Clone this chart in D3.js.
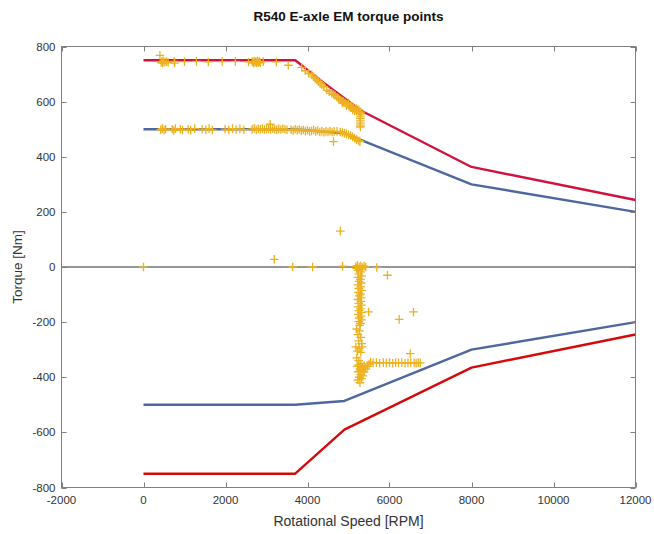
<!DOCTYPE html>
<html>
<head>
<meta charset="utf-8">
<script src="https://cdn.jsdelivr.net/npm/d3@7/dist/d3.min.js"></script>
<style>
  html, body { margin: 0; padding: 0; background: #fff; }
  svg { display: block; font-family: "Liberation Sans", Arial, Helvetica, sans-serif; }
</style>
</head>
<body>
<svg id="chart" width="654" height="534"></svg>
<script>
// Envelope curves [rpm, torque Nm]
const peakMotoring = [[0, 750], [3700, 750], [4400, 668], [5300, 568], [8000, 363], [12000, 243]];
const contMotoring = [[0, 500], [3700, 500], [4900, 485], [8000, 300], [12000, 200]];
const contRegen = [[0, -500], [3700, -500], [4900, -486], [8000, -300], [12000, -200]];
const peakRegen = [[0, -750], [3700, -750], [4900, -590], [8000, -365], [12000, -245]];

// Operating points [rpm, torque Nm]
const pointsFullLoad = [
  [400, 768], [430, 742], [450, 745], [470, 740], [480, 748], [520, 744], [560, 745], [600, 742], [750, 746], [760, 740],
  [1000, 745], [1290, 746], [1580, 744], [1920, 745], [2240, 746], [2560, 744], [2650, 745], [2680, 740],
  [2700, 747], [2720, 742], [2740, 745], [2760, 740], [2780, 747], [2800, 742], [2830, 745], [2850, 741],
  [2920, 745], [3240, 744], [3530, 732], [3860, 724]
];
const pointsFieldWeakening = [
  [3950, 712], [4030, 703], [4107, 697], [4150, 690], [4188, 685], [4230, 679], [4269, 673], [4310, 667],
  [4350, 661], [4400, 654], [4472, 642], [4530, 636], [4594, 630], [4640, 626], [4675, 622], [4720, 616],
  [4756, 612], [4800, 607], [4840, 603], [4878, 600], [4920, 596], [4960, 592], [5000, 588], [5040, 584],
  [5080, 580], [5122, 576], [5160, 572], [5200, 568], [5244, 564], [5285, 558], [4950, 585], [5050, 578],
  [5100, 570], [5150, 566], [5200, 575], [5250, 570], [5300, 562], [5000, 595], [4850, 595],
  [5290, 552], [5290, 545], [5290, 538], [5290, 530], [5290, 522], [5290, 515], [5290, 508]
];
const pointsPartLoad = [
  [420, 498], [460, 502], [500, 497], [540, 500], [700, 500], [740, 495], [780, 502], [900, 500], [950, 497],
  [1090, 500], [1150, 496], [1250, 502], [1430, 500], [1520, 498], [1600, 502], [1680, 497], [1990, 500],
  [2080, 497], [2170, 502], [2260, 499], [2350, 501], [2450, 498], [2650, 500], [2700, 503], [2750, 498],
  [2800, 501], [2850, 500], [2900, 502], [2950, 499], [3000, 500], [3050, 501], [3090, 518], [3100, 499],
  [3150, 503], [3200, 500], [3250, 498], [3300, 501], [3350, 499], [3400, 502], [3450, 500], [3500, 498],
  [3600, 498], [3650, 495], [3700, 500], [3750, 496], [3800, 499], [3850, 494], [3900, 497], [3950, 493],
  [4000, 496], [4050, 492], [4100, 494], [4150, 497], [4200, 492], [4250, 495], [4300, 490], [4350, 493],
  [4400, 489], [4450, 492], [4500, 490], [4550, 493], [4600, 490], [4650, 492], [4720, 492], [4800, 490],
  [4850, 488], [4900, 485], [4950, 483], [5000, 480], [5050, 477], [5100, 472], [5150, 467], [5200, 462],
  [5250, 458], [5280, 455], [4634, 455]
];
const pointsIdle = [
  [0, 0], [3190, 28], [3640, 0], [4125, 0], [4800, 130], [4855, 3], [5690, -2], [5950, -30],
  [6237, -190], [6585, -163], [6505, -314]
];
const pointsRegen = [
  [5180, 2], [5220, 5], [5260, 0], [5300, 4], [5340, -2], [5380, 3], [5420, 0], [5200, -5], [5300, -8],
  [5230, -12], [5300, -18], [5250, -25], [5320, -32], [5230, -38], [5290, -45], [5260, -52], [5310, -58],
  [5230, -65], [5300, -72], [5250, -78], [5320, -85], [5240, -92], [5290, -98], [5260, -105], [5310, -112],
  [5230, -118], [5300, -125], [5250, -132], [5320, -138], [5240, -145], [5290, -152], [5260, -158],
  [5310, -165], [5240, -172], [5300, -178], [5260, -185], [5320, -192], [5250, -198], [5290, -205],
  [5270, -212], [5490, -163],
  [5200, -225], [5270, -232], [5230, -245], [5300, -255], [5250, -268], [5320, -278], [5180, -290],
  [5260, -295], [5220, -305], [5300, -310], [5330, -290],
  [5200, -330], [5250, -340], [5300, -350], [5220, -360], [5280, -370], [5240, -380], [5300, -390],
  [5260, -400], [5230, -410], [5280, -420], [5320, -405], [5350, -395], [5380, -380], [5420, -370],
  [5460, -360], [5500, -352], [5540, -345], [5300, -375], [5340, -365], [5380, -358], [5250, -355],
  [5600, -348], [5680, -347], [5760, -349], [5850, -347], [5920, -348], [6000, -347], [6080, -349],
  [6150, -347], [6220, -348], [6300, -347], [6380, -349], [6450, -348], [6520, -347], [6600, -348],
  [6650, -349], [6700, -347], [6750, -348]
];

const xTicks = [-2000, 0, 2000, 4000, 6000, 8000, 10000, 12000];
const yTicks = [-800, -600, -400, -200, 0, 200, 400, 600, 800];

const titleText = "R540 E-axle EM torque points";
const xLabel = "Rotational Speed [RPM]";
const yLabel = "Torque [Nm]";

const svg = d3.select("#chart");
const plot = { left: 61.5, right: 635.5, top: 46.5, bottom: 487.5 };

const x = d3.scaleLinear().domain([-2000, 12000]).range([plot.left, plot.right]);
const y = d3.scaleLinear().domain([-800, 800]).range([plot.bottom, plot.top]);

const axisColor = "#808080";
const textColor = "#333333";

// Zero torque reference line
svg.append("line")
  .attr("x1", x(-2000)).attr("x2", x(12000))
  .attr("y1", y(0)).attr("y2", y(0))
  .attr("stroke", "#737373").attr("stroke-width", 1.6);

// Envelope lines
const line = d3.line().x(d => x(d[0])).y(d => y(d[1]));
const curves = [
  { data: contMotoring, color: "#4f679f" },
  { data: contRegen, color: "#4f679f" },
  { data: peakMotoring, color: "#d0123f" },
  { data: peakRegen, color: "#d40a0a" }
];
svg.selectAll("path.curve").data(curves).enter().append("path")
  .attr("class", "curve")
  .attr("d", d => line(d.data))
  .attr("fill", "none")
  .attr("stroke", d => d.color)
  .attr("stroke-width", 2.4)
  .attr("stroke-linejoin", "round");

// Operating points as plus markers
const allPoints = [].concat(pointsFullLoad, pointsFieldWeakening, pointsPartLoad, pointsIdle, pointsRegen);
const arm = 4.3;
svg.append("g").selectAll("path").data(allPoints).enter().append("path")
  .attr("d", d => {
    const px = x(d[0]), py = y(d[1]);
    return `M${px - arm},${py}H${px + arm}M${px},${py - arm}V${py + arm}`;
  })
  .attr("stroke", "#edb120")
  .attr("stroke-width", 1.3)
  .attr("fill", "none");

// Axes box with inward ticks
const tickLen = 5;
const axes = svg.append("g");
axes.append("rect")
  .attr("x", plot.left).attr("y", plot.top)
  .attr("width", plot.right - plot.left).attr("height", plot.bottom - plot.top)
  .attr("fill", "none").attr("stroke", axisColor).attr("stroke-width", 1);

xTicks.forEach(t => {
  const px = Math.round(x(t)) + 0.5;
  axes.append("line").attr("x1", px).attr("x2", px).attr("y1", plot.bottom).attr("y2", plot.bottom - tickLen)
    .attr("stroke", axisColor);
  axes.append("line").attr("x1", px).attr("x2", px).attr("y1", plot.top).attr("y2", plot.top + tickLen)
    .attr("stroke", axisColor);
  axes.append("text").attr("x", x(t)).attr("y", plot.bottom + 16)
    .attr("text-anchor", "middle").attr("font-size", 11.5).attr("fill", textColor)
    .text(t);
});
yTicks.forEach(t => {
  const py = Math.round(y(t)) + 0.5;
  axes.append("line").attr("x1", plot.left).attr("x2", plot.left + tickLen).attr("y1", py).attr("y2", py)
    .attr("stroke", axisColor);
  axes.append("line").attr("x1", plot.right).attr("x2", plot.right - tickLen).attr("y1", py).attr("y2", py)
    .attr("stroke", axisColor);
  axes.append("text").attr("x", plot.left - 6).attr("y", y(t) + 4)
    .attr("text-anchor", "end").attr("font-size", 11.5).attr("fill", textColor)
    .text(t);
});

// Titles
svg.append("text").attr("x", (plot.left + plot.right) / 2).attr("y", 21)
  .attr("text-anchor", "middle").attr("font-size", 13.5).attr("font-weight", "bold").attr("fill", "#111")
  .text(titleText);
svg.append("text").attr("x", (plot.left + plot.right) / 2).attr("y", 526)
  .attr("text-anchor", "middle").attr("font-size", 14).attr("fill", textColor)
  .text(xLabel);
svg.append("text")
  .attr("transform", `translate(22, ${(plot.top + plot.bottom) / 2}) rotate(-90)`)
  .attr("text-anchor", "middle").attr("font-size", 13.5).attr("fill", textColor)
  .text(yLabel);
</script>
</body>
</html>
